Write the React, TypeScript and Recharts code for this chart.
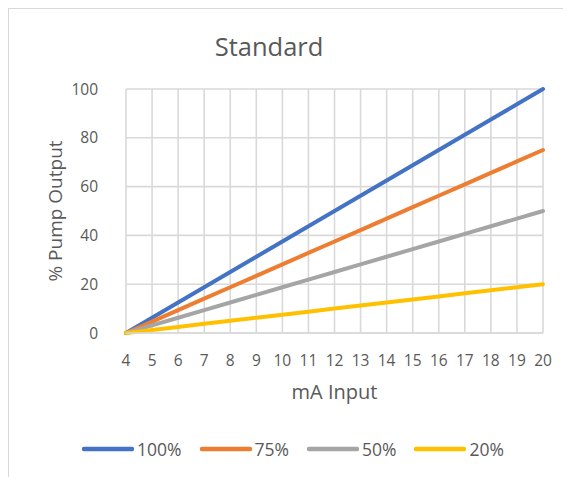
import React from 'react';
import { LineChart, Line, XAxis, YAxis, CartesianGrid, Legend, Label } from 'recharts';

const mA = [4, 5, 6, 7, 8, 9, 10, 11, 12, 13, 14, 15, 16, 17, 18, 19, 20];
const out100 = [0, 6.25, 12.5, 18.75, 25, 31.25, 37.5, 43.75, 50, 56.25, 62.5, 68.75, 75, 81.25, 87.5, 93.75, 100];
const out75 = [0, 4.69, 9.38, 14.06, 18.75, 23.44, 28.13, 32.81, 37.5, 42.19, 46.88, 51.56, 56.25, 60.94, 65.63, 70.31, 75];
const out50 = [0, 3.13, 6.25, 9.38, 12.5, 15.63, 18.75, 21.88, 25, 28.13, 31.25, 34.38, 37.5, 40.63, 43.75, 46.88, 50];
const out20 = [0, 1.25, 2.5, 3.75, 5, 6.25, 7.5, 8.75, 10, 11.25, 12.5, 13.75, 15, 16.25, 17.5, 18.75, 20];
const yTicks = [0, 20, 40, 60, 80, 100];
const seriesNames = ['100%', '75%', '50%', '20%'];
const seriesColors = ['#4472C4', '#ED7D31', '#A5A5A5', '#FFC000'];

const data = mA.map((x, i) => ({
  mA: x,
  s100: out100[i],
  s75: out75[i],
  s50: out50[i],
  s20: out20[i],
}));

const keys = ['s100', 's75', 's50', 's20'];
const TEXT = '#595959';
const GRID = '#d9d9d9';

const renderLegend = () => {
  return (
    <div style={{ display: 'flex', alignItems: 'center', height: 24, marginLeft: 73 }}>
      {seriesNames.map((name, i) => (
        <div key={name} style={{ display: 'flex', alignItems: 'center', marginRight: i < seriesNames.length - 1 ? 18 : 0 }}>
          <svg width={52} height={8} style={{ display: 'block' }}>
            <line x1={2} y1={4} x2={50} y2={4} stroke={seriesColors[i]} strokeWidth={4.5} strokeLinecap="round" />
          </svg>
          <span style={{ fontSize: 17.5, color: TEXT, marginLeft: 3, lineHeight: '24px' }}>{name}</span>
        </div>
      ))}
    </div>
  );
};

export default function App() {
  return (
    <div
      style={{
        position: 'relative',
        width: 563,
        height: 469,
        borderLeft: `1px solid ${GRID}`,
        borderTop: `1px solid ${GRID}`,
        fontFamily: '"Open Sans", sans-serif',
        background: '#fff',
      }}
    >
      <div
        style={{
          position: 'absolute',
          left: 160,
          top: 22,
          width: 200,
          textAlign: 'center',
          fontSize: 25.5,
          lineHeight: '30px',
          color: TEXT,
        }}
      >
        Standard
      </div>
      <LineChart width={562} height={468} data={data} margin={{ top: 80, right: 28, left: 0, bottom: 0 }}>
        <CartesianGrid stroke={GRID} strokeWidth={1.6} />
        <XAxis
          dataKey="mA"
          type="number"
          domain={[4, 20]}
          ticks={mA}
          interval={0}
          height={104}
          tickSize={0}
          tickMargin={22}
          tickLine={false}
          axisLine={{ stroke: GRID, strokeWidth: 1.6 }}
          tick={{ fill: TEXT, fontSize: 15.5 }}
        >
          <Label value="mA Input" position="insideTop" offset={52} fill={TEXT} fontSize={20} />
        </XAxis>
        <YAxis
          type="number"
          domain={[0, 100]}
          ticks={yTicks}
          width={117}
          tickSize={0}
          tickMargin={28}
          tickLine={false}
          axisLine={false}
          tick={{ fill: TEXT, fontSize: 15.5 }}
        >
          <Label value="% Pump Output" position="center" angle={-90} dx={-12.5} fill={TEXT} fontSize={19} />
        </YAxis>
        <Legend verticalAlign="bottom" content={renderLegend} wrapperStyle={{ height: 40, left: 0, width: 562 }} />
        {keys.map((k, i) => (
          <Line
            key={k}
            type="linear"
            dataKey={k}
            name={seriesNames[i]}
            stroke={seriesColors[i]}
            strokeWidth={4}
            strokeLinecap="round"
            dot={false}
            activeDot={false}
            isAnimationActive={false}
          />
        ))}
      </LineChart>
    </div>
  );
}
